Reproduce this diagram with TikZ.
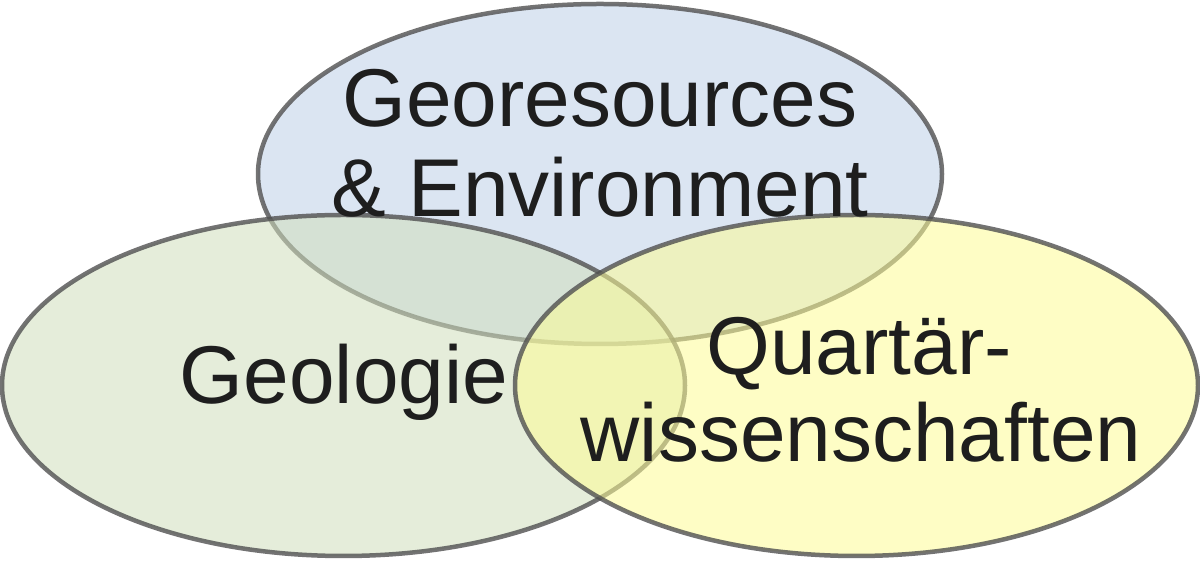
\documentclass[tikz,border=0pt]{standalone}
\usepackage{fontspec}
\setmainfont{Liberation Sans}
\definecolor{blueF}{RGB}{190,208,232}
\definecolor{greenF}{RGB}{208,222,188}
\definecolor{yellowF}{RGB}{253,252,150}
\definecolor{rim}{RGB}{80,80,80}
\definecolor{ink}{RGB}{30,30,30}
\begin{document}
\begin{tikzpicture}[x=1pt,y=1pt,
  setellipse/.style={draw=rim,draw opacity=0.8,line width=4.5pt,fill opacity=0.55},
  lbl/.style={anchor=base,inner sep=0pt,text=ink,font=\fontsize{82}{90}\selectfont}]
\useasboundingbox (0,0) rectangle (1200,561);
\path[setellipse,fill=blueF] (600,387) ellipse [x radius=342,y radius=170];
\path[setellipse,fill=greenF] (343.5,175.5) ellipse [x radius=341.5,y radius=170.5];
\path[setellipse,fill=yellowF] (856.5,175.5) ellipse [x radius=341.5,y radius=170.5];
\node[lbl] (t1) at (600,434) {Georesources};
\node[lbl] (t2) at (600,344) {\& Environment};
\node[lbl] (g) at (344,157) {Geologie};
\node[lbl] (q1) at (859,186) {Quartär-};
\node[lbl] (q2) at (861,99) {wissenschaften};
\end{tikzpicture}
\end{document}
